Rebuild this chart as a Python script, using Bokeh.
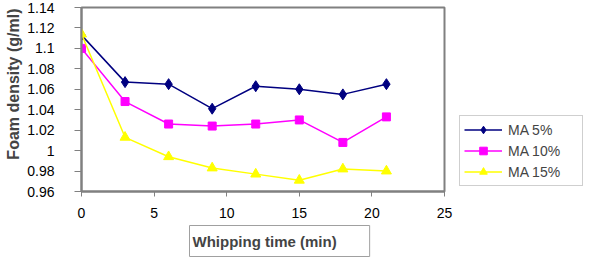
from bokeh.plotting import figure
from bokeh.models import FixedTicker, CustomJSTickFormatter, Legend, LegendItem, Title, Range1d
from bokeh.embed import file_html
from bokeh.resources import INLINE

time_min = [0, 3, 6, 9, 12, 15, 18, 21]
ma5 = [1.113, 1.067, 1.065, 1.041, 1.063, 1.060, 1.055, 1.065]
ma10 = [1.100, 1.048, 1.026, 1.024, 1.026, 1.030, 1.008, 1.033]
ma15 = [1.114, 1.013, 0.994, 0.983, 0.977, 0.971, 0.982, 0.980]
x_ticks = [0, 5, 10, 15, 20, 25]
y_ticks = [0.96, 0.98, 1.0, 1.02, 1.04, 1.06, 1.08, 1.10, 1.12, 1.14]
series_names = ["MA 5%", "MA 10%", "MA 15%"]
x_title = "Whipping time (min)"
y_title = "Foam density (g/ml)"

FONT = "Liberation Sans"

p = figure(frame_width=363, frame_height=184, output_backend="svg", toolbar_location=None,
           x_range=Range1d(0, 25), y_range=Range1d(0.96, 1.14),
           min_border_left=80, min_border_right=156, min_border_top=7, min_border_bottom=66)
p.title.visible = False
p.background_fill_color = "white"
p.border_fill_color = "white"
p.outline_line_color = "#808080"
p.outline_line_width = 2
p.xgrid.visible = False
p.ygrid.visible = False

for ax in (p.xaxis[0], p.yaxis[0]):
    ax.axis_line_color = "#808080"
    ax.axis_line_width = 2
    ax.major_tick_line_color = "#808080"
    ax.major_tick_line_width = 1
    ax.minor_tick_line_color = None
    ax.major_tick_in = 0
    ax.major_label_text_font = FONT
    ax.major_label_text_font_size = "14px"
    ax.major_label_text_color = "black"

p.xaxis.ticker = FixedTicker(ticks=x_ticks)
p.xaxis.major_tick_out = 5
p.xaxis.major_label_standoff = 11

p.yaxis.ticker = FixedTicker(ticks=y_ticks)
p.yaxis.formatter = CustomJSTickFormatter(code="return (Math.round(tick*100)/100).toString();")
p.yaxis.major_tick_out = 7
p.yaxis.major_label_standoff = 20

l1 = p.line(time_min, ma5, line_color="#000080", line_width=1.5)
m1 = p.scatter(time_min, ma5, marker="diamond", size=11, fill_color="#000080", line_color="#000080")
l2 = p.line(time_min, ma10, line_color="#FF00FF", line_width=1.5)
m2 = p.scatter(time_min, ma10, marker="square", size=8, fill_color="#FF00FF", line_color="#FF00FF")
l3 = p.line(time_min, ma15, line_color="#FFFF00", line_width=1.5)
m3 = p.scatter(time_min, ma15, marker="triangle", size=10, fill_color="#FFFF00", line_color="#FFFF00")

legend = Legend(items=[LegendItem(label=series_names[0], renderers=[l1, m1]),
                       LegendItem(label=series_names[1], renderers=[l2, m2]),
                       LegendItem(label=series_names[2], renderers=[l3, m3])],
                location=(15, 5))
legend.border_line_color = "#A0A0A0"
legend.border_line_width = 1
legend.background_fill_alpha = 1
legend.padding = 4
legend.spacing = 2
legend.label_height = 19
legend.glyph_height = 19
legend.glyph_width = 38
legend.label_standoff = 6
legend.label_width = 70
legend.label_text_font = FONT
legend.label_text_font_size = "14px"
legend.margin = 0
p.add_layout(legend, "right")

ytitle = Title(text=y_title, align="right", offset=1, standoff=5,
               text_font=FONT, text_font_style="bold", text_font_size="16px")
p.add_layout(ytitle, "left")

xtitle = Title(text=x_title, align="left", offset=108, standoff=6,
               text_font=FONT, text_font_style="bold", text_font_size="15px",
               border_line_color="#A0A0A0", border_line_width=1,
               background_fill_color="white",
               padding=dict(left=3, right=33, top=7, bottom=7))
p.add_layout(xtitle, "below")

open("out.html", "w").write(file_html(p, INLINE))
